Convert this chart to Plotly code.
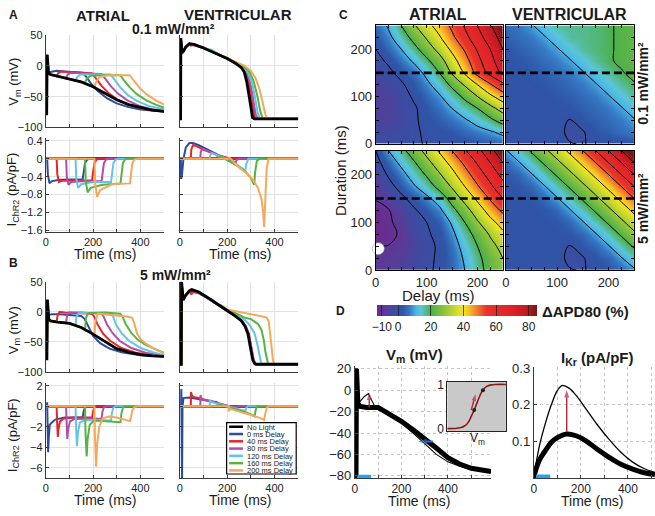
import plotly.graph_objects as go

W, H = 655, 516
FONT = "Liberation Sans, Arial, Helvetica, sans-serif"

# ------------------------------------------------------------------ data
SERIES_NAMES = ["No Light", "0 ms Delay", "40 ms Delay", "80 ms Delay",
                "120 ms Delay", "160 ms Delay", "200 ms Delay"]
SERIES_COLORS = ["#000000", "#2c4d9e", "#e3262b", "#b04fa8",
                 "#63c5e6", "#55b443", "#f6a85a"]

# A: 0.1 mW/mm2, atrial Vm  ([time ms, mV] per series, order as SERIES_NAMES)
ATR_LOW_VM = [
    [[0,-78],[4,-78],[6,18],[9,-4],[12,-12],[20,-14],[50,-17],[100,-21],[150,-26],[200,-34],[250,-44],[300,-55],[350,-63],[400,-68],[450,-72],[500,-74]],
    [[0,-78],[4,-78],[6,18],[9,-4],[12,-11],[20,-10],[45,-8],[80,-9],[120,-10],[155,-11],[170,-17],[190,-28],[220,-41],[260,-53],[300,-61],[350,-67],[400,-71],[450,-73],[500,-74]],
    [[0,-78],[4,-78],[6,18],[9,-4],[12,-12],[20,-14],[45,-17],[52,-12],[65,-9],[100,-10],[150,-11],[195,-12],[210,-19],[235,-32],[265,-44],[300,-54],[350,-63],[400,-69],[450,-72],[500,-74]],
    [[0,-78],[4,-78],[6,18],[9,-4],[12,-12],[20,-14],[50,-17],[85,-20],[93,-14],[108,-11],[150,-12],[235,-13],[250,-20],[275,-33],[305,-45],[345,-56],[395,-65],[445,-70],[500,-73]],
    [[0,-78],[4,-78],[6,18],[9,-4],[12,-12],[20,-14],[50,-17],[100,-21],[125,-24],[133,-18],[148,-14],[200,-14],[275,-14],[290,-22],[315,-35],[345,-47],[385,-57],[435,-65],[500,-71]],
    [[0,-78],[4,-78],[6,18],[9,-4],[12,-12],[20,-14],[50,-17],[100,-21],[150,-26],[165,-28],[173,-21],[188,-16],[250,-15],[315,-15],[330,-23],[355,-35],[385,-46],[425,-56],[465,-63],[500,-68]],
    [[0,-78],[4,-78],[6,18],[9,-4],[12,-12],[20,-14],[50,-17],[100,-21],[150,-26],[205,-35],[213,-26],[228,-18],[260,-15],[355,-15],[370,-23],[395,-35],[425,-46],[465,-56],[500,-63]],
]
# A: 0.1 mW/mm2, atrial I_ChR2 ([time ms, pA/pF])
ATR_LOW_I = [
    [[0,0],[500,0]],
    [[0,0],[6,0],[9,-0.35],[16,-0.55],[26,-0.5],[60,-0.47],[156,-0.46],[160,-0.3],[166,-0.1],[175,-0.02],[185,0],[500,0]],
    [[0,0],[46,0],[49,-0.35],[56,-0.52],[68,-0.49],[120,-0.48],[196,-0.48],[200,-0.3],[206,-0.1],[215,-0.02],[225,0],[500,0]],
    [[0,0],[86,0],[89,-0.4],[96,-0.58],[108,-0.52],[170,-0.5],[236,-0.5],[240,-0.3],[246,-0.1],[255,-0.02],[265,0],[500,0]],
    [[0,0],[126,0],[129,-0.45],[137,-0.65],[150,-0.57],[200,-0.52],[276,-0.52],[280,-0.32],[286,-0.1],[295,-0.02],[305,0],[500,0]],
    [[0,0],[166,0],[169,-0.5],[177,-0.75],[190,-0.65],[240,-0.58],[316,-0.55],[320,-0.33],[326,-0.1],[335,-0.02],[345,0],[500,0]],
    [[0,0],[206,0],[209,-0.55],[217,-0.85],[230,-0.7],[280,-0.57],[356,-0.55],[360,-0.33],[366,-0.1],[375,-0.02],[385,0],[500,0]],
]
# A: 0.1 mW/mm2, ventricular Vm
VEN_LOW_VM = [
    [[0,-86],[3,-86],[4,45],[6,30],[9,22],[15,24],[25,31],[40,36],[60,35],[100,29],[150,21],[200,12],[236,4],[260,-3],[272,-10],[282,-25],[293,-50],[300,-70],[307,-84],[315,-86],[500,-86]],
    [[0,-86],[3,-86],[4,43],[6,28],[9,20],[15,23],[25,30],[40,35],[60,34],[100,29],[150,21],[200,12],[238,4],[262,-3],[275,-10],[285,-25],[296,-50],[303,-70],[310,-84],[318,-86],[500,-86]],
    [[0,-86],[3,-86],[4,45],[6,30],[9,22],[15,24],[25,31],[40,36],[46,33],[55,34],[100,29],[150,21],[200,12],[240,4],[265,-3],[280,-12],[292,-28],[302,-52],[310,-72],[318,-85],[325,-86],[500,-86]],
    [[0,-86],[3,-86],[4,45],[6,30],[9,22],[15,24],[25,31],[40,36],[60,35],[86,31],[95,31],[150,21],[200,12],[240,4],[270,-4],[288,-15],[300,-32],[310,-55],[320,-78],[328,-86],[500,-86]],
    [[0,-86],[3,-86],[4,45],[6,30],[9,22],[15,24],[25,31],[40,36],[60,35],[100,29],[126,26],[135,26],[150,22],[200,12],[240,4],[270,-3],[290,-12],[305,-28],[318,-52],[328,-75],[338,-86],[500,-86]],
    [[0,-86],[3,-86],[4,45],[6,30],[9,22],[15,24],[25,31],[40,36],[60,35],[100,29],[150,21],[166,19],[175,18],[200,13],[240,5],[270,-1],[295,-10],[312,-25],[328,-50],[340,-74],[350,-86],[500,-86]],
    [[0,-86],[3,-86],[4,45],[6,30],[9,22],[15,24],[25,31],[40,36],[60,35],[100,29],[150,21],[200,12],[206,11],[240,6],[270,1],[300,-8],[320,-20],[338,-40],[352,-62],[362,-80],[370,-86],[500,-86]],
]
# A: 0.1 mW/mm2, ventricular I_ChR2
VEN_LOW_I = [
    [[0,0],[500,0]],
    [[0,0],[4,0],[5,-0.45],[8,-0.4],[15,0.0],[25,0.25],[40,0.35],[55,0.35],[80,0.3],[110,0.22],[140,0.13],[156,0.1],[160,0.04],[170,0],[500,0]],
    [[0,0],[46,0],[48,0.2],[55,0.3],[70,0.28],[100,0.2],[140,0.12],[170,0.06],[196,0.03],[200,0.01],[210,0],[500,0]],
    [[0,0],[86,0],[88,0.15],[95,0.22],[115,0.18],[150,0.1],[190,0.03],[215,-0.03],[236,-0.08],[240,-0.03],[250,0],[500,0]],
    [[0,0],[126,0],[128,0.08],[135,0.13],[160,0.07],[200,-0.03],[240,-0.13],[265,-0.22],[276,-0.28],[280,-0.12],[290,0],[500,0]],
    [[0,0],[166,0],[168,0.04],[175,0.06],[200,-0.03],[240,-0.15],[280,-0.3],[300,-0.43],[314,-0.58],[318,-0.3],[325,-0.05],[335,0],[500,0]],
    [[0,0],[206,0],[208,0.02],[215,0.0],[240,-0.15],[280,-0.32],[310,-0.48],[330,-0.65],[345,-0.9],[352,-1.2],[356,-1.52],[361,-0.8],[367,-0.2],[375,0],[500,0]],
]
# B: 5 mW/mm2, atrial Vm
ATR_HIGH_VM = [
    [[0,-78],[5,-78],[7,20],[10,-2],[13,-12],[20,-15],[50,-17],[100,-19],[150,-26],[200,-37],[250,-49],[300,-61],[350,-67],[400,-71],[450,-73],[500,-74]],
    [[0,-78],[5,-78],[7,20],[10,0],[14,-5],[25,-4],[60,-4],[100,-5],[150,-7],[165,-12],[180,-25],[200,-40],[230,-52],[270,-61],[320,-67],[400,-72],[500,-74]],
    [[0,-78],[5,-78],[7,20],[10,-2],[13,-12],[20,-15],[46,-17],[50,-6],[58,0],[80,-1],[150,-2],[195,-3],[205,-8],[218,-20],[242,-36],[272,-48],[320,-60],[380,-68],[450,-72],[500,-74]],
    [[0,-78],[5,-78],[7,20],[10,-2],[13,-12],[20,-15],[50,-17],[86,-18],[90,-6],[98,-1],[150,-1],[235,-3],[245,-8],[258,-20],[282,-35],[312,-48],[362,-60],[422,-68],[500,-73]],
    [[0,-78],[5,-78],[7,20],[10,-2],[13,-12],[20,-15],[50,-17],[100,-19],[126,-22],[130,-8],[140,-2],[200,-2],[275,-3],[285,-8],[298,-22],[322,-36],[352,-48],[402,-60],[452,-67],[500,-72]],
    [[0,-78],[5,-78],[7,20],[10,-2],[13,-12],[20,-15],[50,-17],[100,-19],[150,-26],[166,-30],[170,-10],[180,-2],[250,-1],[315,-3],[325,-8],[338,-20],[362,-35],[388,-46],[422,-55],[458,-61],[500,-68]],
    [[0,-78],[5,-78],[7,20],[10,-2],[13,-12],[20,-15],[50,-17],[100,-19],[150,-26],[206,-38],[210,-15],[220,-3],[250,-4],[300,-6],[350,-8],[365,-10],[375,-20],[386,-36],[400,-45],[420,-52],[456,-61],[500,-69]],
]
# B: 5 mW/mm2, atrial I_ChR2
ATR_HIGH_I = [
    [[0,0],[500,0]],
    [[0,0],[5,0],[6,0.4],[8,-2],[10,-4.5],[13,-3],[17,-1.8],[25,-1.6],[40,-1.3],[80,-1.1],[156,-1.1],[160,-0.5],[166,-0.1],[175,0],[500,0]],
    [[0,0],[46,0],[48,-1.5],[51,-3.0],[54,-2.2],[60,-1.5],[75,-1.2],[120,-1.1],[196,-1.1],[200,-0.5],[206,-0.1],[215,0],[500,0]],
    [[0,0],[86,0],[88,-1.5],[91,-3.2],[95,-2.2],[102,-1.5],[120,-1.25],[170,-1.2],[236,-1.2],[240,-0.5],[246,-0.1],[255,0],[500,0]],
    [[0,0],[126,0],[128,-2],[132,-3.9],[136,-2.6],[144,-1.6],[165,-1.35],[220,-1.35],[276,-1.4],[280,-0.6],[286,-0.15],[295,0],[500,0]],
    [[0,0],[166,0],[168,-2.5],[173,-4.9],[177,-3.2],[186,-1.8],[205,-1.4],[260,-1.45],[316,-1.55],[320,-0.7],[326,-0.15],[335,0],[500,0]],
    [[0,0],[206,0],[208,-3],[213,-5.9],[217,-3.8],[226,-2],[240,-1.2],[265,-1.0],[300,-1.1],[340,-1.3],[356,-1.45],[361,-1.0],[366,-0.4],[375,-0.08],[385,0],[500,0]],
]
# B: 5 mW/mm2, ventricular Vm
VEN_HIGH_VM = [
    [[0,-87],[6,-87],[7,50],[10,30],[14,20],[25,28],[40,35],[50,37],[80,33],[120,23],[160,12],[204,1],[235,-7],[260,-15],[275,-24],[288,-37],[296,-55],[302,-69],[308,-80],[316,-86],[322,-87],[500,-87]],
    [[0,-87],[6,-87],[7,46],[10,26],[14,19],[25,27],[40,33],[55,34],[80,31],[120,22],[160,12],[204,1],[237,-7],[262,-15],[277,-24],[290,-37],[298,-55],[304,-69],[310,-80],[318,-86],[324,-87],[500,-87]],
    [[0,-87],[6,-87],[7,50],[10,30],[14,20],[25,28],[44,35],[48,29],[53,32],[60,33],[80,31],[120,23],[160,12],[204,1],[238,-7],[263,-15],[279,-24],[292,-37],[300,-55],[306,-69],[312,-80],[320,-86],[326,-87],[500,-87]],
    [[0,-87],[6,-87],[7,50],[10,30],[14,20],[25,28],[40,35],[50,37],[80,33],[88,29],[93,30],[120,22],[160,12],[204,1],[240,-9],[265,-17],[282,-28],[295,-45],[305,-65],[312,-80],[320,-87],[500,-87]],
    [[0,-87],[6,-87],[7,50],[10,30],[14,20],[25,28],[40,35],[50,37],[80,33],[120,23],[128,20],[133,21],[160,13],[204,2],[240,-6],[270,-12],[295,-22],[315,-35],[328,-55],[336,-72],[343,-85],[347,-87],[500,-87]],
    [[0,-87],[6,-87],[7,50],[10,30],[14,20],[25,28],[40,35],[50,37],[80,33],[120,23],[160,12],[168,10],[173,11],[204,3],[240,-3],[270,-9],[300,-12],[330,-20],[345,-30],[355,-48],[362,-68],[368,-82],[373,-87],[500,-87]],
    [[0,-87],[6,-87],[7,50],[10,30],[14,20],[25,28],[40,35],[50,37],[80,33],[120,23],[160,12],[204,1],[208,-1],[212,3],[250,0],[300,-3],[350,-7],[365,-9],[375,-15],[382,-35],[388,-60],[393,-80],[398,-87],[500,-87]],
]
# B: 5 mW/mm2, ventricular I_ChR2
VEN_HIGH_I = [
    [[0,0],[500,0]],
    [[0,0],[5,0],[6,1.7],[7,-7.5],[9,-7.5],[11,0],[15,0.8],[40,0.85],[80,0.7],[120,0.5],[156,0.4],[160,0.1],[168,0],[500,0]],
    [[0,0],[46,0],[47,1.4],[50,1.1],[56,0.9],[80,0.8],[120,0.55],[160,0.3],[196,0.1],[200,0.03],[206,0],[500,0]],
    [[0,0],[86,0],[87,1.1],[90,0.8],[100,0.65],[140,0.4],[180,0.15],[220,-0.05],[236,-0.1],[240,-0.03],[246,0],[500,0]],
    [[0,0],[126,0],[127,0.65],[131,0.45],[150,0.3],[190,0.05],[230,-0.2],[260,-0.35],[276,-0.45],[281,-0.15],[287,0],[500,0]],
    [[0,0],[166,0],[167,0.25],[172,0.15],[200,-0.05],[240,-0.3],[280,-0.6],[305,-0.85],[316,-1.0],[320,-0.4],[326,0],[500,0]],
    [[0,0],[206,0],[207,-0.5],[212,-0.2],[220,-0.3],[260,-0.55],[300,-0.85],[340,-1.15],[356,-1.35],[362,-0.6],[368,-0.1],[375,0],[500,0]],
]

# C: dAPD80 (%) maps; rows = light duration, columns = delay
DELAYS = [0, 25, 50, 75, 100, 125, 150, 175, 200, 225, 250]
DURATIONS = [0, 25, 50, 75, 100, 125, 150, 175, 200, 225, 250]
LIGHT_DURATION = 150
WHITE_DOT = [5, 45]
C_ATR_LOW = [
    [-1, -1, -1, -1, 0.5, 1, 1.5, 2, 3, 4, 5],
    [-3.5, -3, -2, -1, 1, 2, 3, 5, 7, 9, 12],
    [-6, -5.5, -3.5, -1, 2, 4, 6, 9, 13, 18, 24],
    [-6.5, -6, -3.5, -1, 3, 6, 10, 15, 20, 27, 34],
    [-6.5, -5.5, -3, 1, 5, 9, 15, 22, 30, 38, 45],
    [-5.5, -3.5, -1, 3, 8, 14, 22, 31, 40, 49, 58],
    [-4, -1.5, 2, 6, 12, 20, 31, 41, 53, 63, 72],
    [-2, 1, 6, 11, 18, 26, 36, 46, 57, 67, 76],
    [0, 5, 10, 17, 25, 33, 42, 51, 61, 70, 80],
    [3, 8, 15, 23, 31, 39, 48, 57, 66, 75, 84],
    [5, 11, 20, 29, 37, 44, 52, 61, 70, 79, 88],
]
C_VEN_LOW = [
    [1, 1, 1, 1, 1, 0.3, -0.3, 1, 1.5, 2, 2.5],
    [2, 2, 2, 2, 2, -1.5, -0.5, 3, 4, 5.5, 7],
    [2, 2, 2, 2, 1.5, -0.3, 3, 4, 5.5, 7, 9.5],
    [2, 2, 2, 2, 2.5, 3, 4, 5.5, 7, 9.5, 13],
    [2, 2, 2, 2.5, 3, 4, 5.5, 7, 9.5, 13, 16.5],
    [2, 2, 2.5, 3, 4, 5.5, 7, 9.5, 13, 16.5, 19.5],
    [2, 2.5, 3, 4, 5.5, 7, 9.5, 13, 16.5, 19.5, 21.5],
    [2.5, 3, 4, 5.5, 7, 9.5, 13, 16.5, 19.3, 21, 22.5],
    [3, 4, 5.5, 7, 9.5, 13, 16.5, 18, 19.3, 21, 22.5],
    [4, 5.5, 7, 9.5, 13, 16.5, 17, 18, 19.3, 21, 22.5],
    [5.5, 7, 9.5, 13, 16.5, 17, 17, 18, 19.3, 21, 22.5],
]
C_ATR_HIGH = [
    [-8, -8, -6, -4, -1, 1, 5, 10, 17, 23, 28],
    [-9, -8.5, -6.5, -4, -1.5, 1, 5, 11, 18, 24, 30],
    [-10.3, -9.8, -8, -5, -2, 1, 6, 13, 20, 27, 33],
    [-13, -12, -9, -4, -1, 2, 8, 16, 23, 31, 38],
    [-13, -11, -8, -3, 0, 4, 11, 20, 29, 37, 44],
    [-12.5, -10.5, -6, -1, 3, 8, 17, 26, 35, 44, 52],
    [-9.5, -6, -2, 3, 8, 14, 24, 33, 42, 51, 60],
    [-8, -3, 3, 9, 15, 23, 31, 40, 49, 58, 67],
    [-6, 1, 7, 14, 21, 29, 37, 46, 55, 64, 73],
    [-3, 5, 12, 19, 27, 35, 43, 52, 61, 70, 80],
    [0, 10, 17, 25, 33, 41, 50, 59, 67, 77, 87],
]
C_VEN_HIGH = [
    [1, 1, 1, 1, 1, 0.3, -0.3, 1, 3, 5, 9],
    [2, 2, 2, 2, 2, -1.5, -0.5, 3, 5, 9.5, 15],
    [2, 2, 2, 2, 1.5, -0.3, 3, 5, 9.5, 15, 21],
    [2, 2, 2, 2, 2.5, 3, 5, 9.5, 15, 21, 28],
    [2, 2, 2, 2.5, 3, 5, 9.5, 15, 21, 28, 35],
    [2, 2, 2.5, 3, 5, 9.5, 15, 21, 28, 35, 42],
    [2, 2.5, 3, 5, 9.5, 15, 21, 28, 35, 42, 50],
    [2.5, 3, 5, 9.5, 15, 21, 28, 35, 42, 50, 60],
    [3, 5, 9.5, 15, 21, 28, 35, 42, 50, 60, 70],
    [5, 9.5, 15, 21, 28, 35, 42, 50, 60, 70, 80],
    [9.5, 15, 21, 28, 35, 42, 50, 60, 70, 80, 90],
]
CBAR_TICKS = [-10, 0, 20, 40, 60, 80]

# D: mechanism traces
D_VM_CONTROL = [[0,-80],[5,-80],[7,20],[10,0],[13,-12],[20,-15],[50,-16],[100,-16],[150,-22],[200,-29],[250,-37],[300,-45],[350,-54],[400,-63],[450,-69],[500,-73],[585,-76]]
D_VM_LIGHT = [[0,-80],[5,-80],[7,20],[10,0],[13,-12],[20,-11],[40,-6],[58,-3],[75,-10],[90,-17],[100,-18],[150,-23],[200,-31],[250,-40],[300,-50],[350,-60],[400,-67],[450,-71],[500,-74],[585,-77]]
D_IKR_CONTROL = [[0,0],[10,0.025],[25,0.05],[50,0.075],[75,0.097],[100,0.11],[140,0.12],[180,0.115],[220,0.102],[270,0.078],[320,0.056],[370,0.037],[420,0.024],[470,0.014],[515,0.009]]
D_IKR_LIGHT = [[0,0],[10,0.04],[25,0.09],[50,0.15],[75,0.2],[100,0.238],[120,0.252],[150,0.245],[180,0.225],[220,0.19],[270,0.145],[320,0.105],[370,0.07],[420,0.043],[470,0.025],[515,0.015]]
D_LIGHT_ON = [10, 70]
INSET_V = [-80, -60, -50, -45, -40, -35, -30, -25, -22, -20, -15, -10, -5, 0, 10, 20, 40]
INSET_ACT = [0, 0.01, 0.03, 0.06, 0.1, 0.18, 0.3, 0.42, 0.5, 0.56, 0.7, 0.82, 0.9, 0.95, 0.99, 1.0, 1.0]
INSET_DOTS_V = [-25, -7]
INSET_DOTS_ACT = [0.42, 0.87]
# arrows: [x_tail, y_tail, x_head, y_head]
ARROW_VM_PEAK = [62, -16, 62, -2]
ARROW_VM_REPOL = [335, -48, 272, -48]
ARROW_IKR = [140, 0.125, 140, 0.24]
ARROW_INSET = [-31, 0.42, -22, 0.78]

# ------------------------------------------------------------------ helpers
def X(px):
    return px / W

def Y(py):
    return 1 - py / H

def axkey(n, a):
    return f"{a}axis" if n == 1 else f"{a}axis{n}"

def ref(n, a):
    return a if n == 1 else f"{a}{n}"

fig = go.Figure()
layout = dict(width=W, height=H, margin=dict(l=0, r=0, t=0, b=0),
              paper_bgcolor="white", plot_bgcolor="white", showlegend=False,
              font=dict(family=FONT, color="#1a1a1a"), annotations=[], shapes=[])

def make_axes(n, box, xcfg, ycfg):
    x0, x1, y0, y1 = box
    layout[axkey(n, "x")] = dict(domain=[X(x0), X(x1)], anchor=ref(n, "y"), **xcfg)
    layout[axkey(n, "y")] = dict(domain=[Y(y1), Y(y0)], anchor=ref(n, "x"), **ycfg)

def ann(text, x, y, size, bold=False, angle=0, xanchor="center", yanchor="middle"):
    layout["annotations"].append(dict(
        text=f"<b>{text}</b>" if bold else text, x=X(x), y=Y(y), xref="paper", yref="paper",
        showarrow=False, textangle=angle, xanchor=xanchor, yanchor=yanchor,
        font=dict(size=size, family=FONT, color="#1a1a1a")))

AXC = "#3a3a3a"

def ab_axis(rng, dtick, minor_dtick, labels, size=11):
    d = dict(range=rng, tick0=0, dtick=dtick, showticklabels=labels,
             showline=True, linecolor=AXC, linewidth=1, ticks="inside", ticklen=3,
             tickcolor=AXC, showgrid=True, gridcolor="#e2e2e2", gridwidth=1,
             zeroline=False, tickfont=dict(size=size, color="#222"))
    if minor_dtick:
        d["minor"] = dict(tick0=0, dtick=minor_dtick, ticks="inside", ticklen=3, tickcolor=AXC,
                          showgrid=True, gridcolor="#e2e2e2", gridwidth=1)
    return d

# panel A / B axes
make_axes(1, (42, 161, 29, 124), ab_axis([0, 500], 200, 100, False), ab_axis([-100, 50], 50, None, True))
make_axes(2, (177, 296, 29, 124), ab_axis([0, 500], 200, 100, False), ab_axis([-100, 50], 50, None, False))
make_axes(3, (42, 161, 135, 232), ab_axis([0, 500], 200, 100, True), ab_axis([-1.64, 0.46], 0.4, None, True))
make_axes(4, (177, 296, 135, 232), ab_axis([0, 500], 200, 100, True), ab_axis([-1.64, 0.46], 0.4, None, False))
make_axes(5, (42, 161, 283, 376), ab_axis([0, 500], 200, 100, False), ab_axis([-100, 50], 50, None, True))
make_axes(6, (177, 296, 283, 376), ab_axis([0, 500], 200, 100, False), ab_axis([-100, 50], 50, None, False))
make_axes(7, (42, 161, 387, 485), ab_axis([0, 500], 200, 100, True), ab_axis([-7, 2.3], 2, None, True))
make_axes(8, (177, 296, 387, 485), ab_axis([0, 500], 200, 100, True), ab_axis([-7, 2.3], 2, None, False))

def add_series(series, n, vm):
    order = [1, 2, 3, 4, 5, 6, 0] if vm else [0, 1, 2, 3, 4, 5, 6]
    for i in order:
        pts = series[i]
        fig.add_trace(go.Scatter(
            x=[p[0] for p in pts], y=[p[1] for p in pts], mode="lines", name=SERIES_NAMES[i],
            line=dict(color=SERIES_COLORS[i], width=2.8 if i == 0 else 2.0),
            xaxis=ref(n, "x"), yaxis=ref(n, "y"), hoverinfo="skip"))

add_series(ATR_LOW_VM, 1, True)
add_series(VEN_LOW_VM, 2, True)
add_series(ATR_LOW_I, 3, False)
add_series(VEN_LOW_I, 4, False)
add_series(ATR_HIGH_VM, 5, True)
add_series(VEN_HIGH_VM, 6, True)
add_series(ATR_HIGH_I, 7, False)
add_series(VEN_HIGH_I, 8, False)

# ------------------------------------------------------------------ panel C
ZMIN, ZMAX = -13, 85
STOPS = [(-13, "#6b2a8c"), (-8, "#5b3b98"), (-3, "#3f4aa0"), (3, "#2f56a8"), (7, "#3579c4"),
         (11, "#4cb8e6"), (14, "#5cc6d8"), (20, "#4cb04a"), (28, "#8cc43c"), (36, "#d4dc2c"),
         (40, "#f6e51c"), (44, "#f7b52a"), (48, "#f0802a"), (54, "#e8332a"), (70, "#e02028"),
         (78, "#c41a22"), (85, "#7a1518")]
CSCALE = [[(v - ZMIN) / (ZMAX - ZMIN), c] for v, c in STOPS]

def c_axis(labels):
    return dict(range=[0, 250], tick0=0, dtick=100, showticklabels=labels,
                showline=True, mirror="ticks", linecolor="black", linewidth=1,
                ticks="inside", ticklen=3, tickcolor="black", showgrid=False,
                minor=dict(tick0=0, dtick=25, ticks="inside", ticklen=3, tickcolor="black",
                           showgrid=False),
                zeroline=False, tickfont=dict(size=13, color="#222"))

make_axes(9, (374, 502, 19, 141), c_axis(False), c_axis(True))
make_axes(10, (505, 634, 19, 141), c_axis(False), c_axis(False))
make_axes(11, (374, 502, 148, 271), c_axis(True), c_axis(True))
make_axes(12, (505, 634, 148, 271), c_axis(True), c_axis(False))

for k, (n, z) in enumerate([(9, C_ATR_LOW), (10, C_VEN_LOW), (11, C_ATR_HIGH), (12, C_VEN_HIGH)]):
    cb = None
    if k == 0:
        cb = dict(orientation="h", x=X(455.7), xanchor="center", y=Y(307), yanchor="top",
                  len=160, lenmode="pixels", thickness=11, thicknessmode="pixels",
                  xpad=0, ypad=0, outlinewidth=0, tickvals=CBAR_TICKS,
                  ticks="inside", ticklen=11, tickcolor="rgba(30,30,30,0.75)", tickwidth=1,
                  tickfont=dict(size=12, color="#222"))
    fig.add_trace(go.Heatmap(x=DELAYS, y=DURATIONS, z=z, zsmooth="best", colorscale=CSCALE,
                             zmin=ZMIN, zmax=ZMAX, showscale=(k == 0), colorbar=cb,
                             xaxis=ref(n, "x"), yaxis=ref(n, "y"), hoverinfo="skip"))
    fig.add_trace(go.Contour(x=DELAYS, y=DURATIONS, z=z, showscale=False,
                             contours=dict(start=-10, end=90, size=10, coloring="none"),
                             line=dict(color="black", width=1, smoothing=1.0),
                             xaxis=ref(n, "x"), yaxis=ref(n, "y"), hoverinfo="skip"))
    fig.add_trace(go.Scatter(x=[DELAYS[0], DELAYS[-1]], y=[LIGHT_DURATION, LIGHT_DURATION],
                             mode="lines", line=dict(color="black", width=2.6, dash="8px,4px"),
                             xaxis=ref(n, "x"), yaxis=ref(n, "y"), hoverinfo="skip"))

fig.add_trace(go.Scatter(x=[WHITE_DOT[0]], y=[WHITE_DOT[1]], mode="markers",
                         marker=dict(color="white", size=12, line=dict(color="#999", width=0.6)),
                         xaxis="x11", yaxis="y11", cliponaxis=False, hoverinfo="skip"))

# ------------------------------------------------------------------ panel D
def d_axis(rng, dtick, minor_dtick, tick0=0, labels=True):
    d = dict(range=rng, tick0=tick0, dtick=dtick, showticklabels=labels,
             showline=True, linecolor=AXC, linewidth=1, ticks="inside", ticklen=3,
             tickcolor=AXC, showgrid=True, gridcolor="#c4c4c4", griddash="dot",
             gridwidth=1, zeroline=False, tickfont=dict(size=13, color="#222"))
    if minor_dtick:
        d["minor"] = dict(tick0=0, dtick=minor_dtick, ticks="inside", ticklen=3, tickcolor=AXC,
                          showgrid=True, gridcolor="#c4c4c4", griddash="dot", gridwidth=1)
    return d

make_axes(13, (353, 490, 370, 485), dict(d_axis([0, 585], 200, 100), tickfont=dict(size=12, color="#222")),
          d_axis([-82, 22.5], 20, None, tick0=0))
make_axes(15, (533, 655, 371, 485), dict(d_axis([0, 515], 200, 100), tickfont=dict(size=12, color="#222")),
          dict(d_axis([0, 0.302], 0.1, None), tickvals=[0.1, 0.2, 0.3]))
INSET_XR = [-80, 40]
INSET_YR = [-0.06, 1.06]
make_axes(14, (446, 505, 386, 437),
          dict(range=INSET_XR, showticklabels=False, ticks="", showline=True, mirror=True,
               linecolor="#222", linewidth=1, showgrid=False, zeroline=False),
          dict(range=INSET_YR, tickvals=[0, 1], ticks="", showline=True,
               mirror=True, linecolor="#222", linewidth=1, showgrid=False, zeroline=False,
               tickfont=dict(size=12, color="#222")))

for pts, wd in [(D_VM_CONTROL, 5), (D_VM_LIGHT, 1.1)]:
    fig.add_trace(go.Scatter(x=[p[0] for p in pts], y=[p[1] for p in pts], mode="lines",
                             line=dict(color="black", width=wd), xaxis="x13", yaxis="y13",
                             hoverinfo="skip"))
for pts, wd in [(D_IKR_CONTROL, 5), (D_IKR_LIGHT, 1.3)]:
    fig.add_trace(go.Scatter(x=[p[0] for p in pts], y=[p[1] for p in pts], mode="lines",
                             line=dict(color="black", width=wd, shape="spline"),
                             xaxis="x15", yaxis="y15", hoverinfo="skip"))
fig.add_trace(go.Scatter(x=D_LIGHT_ON, y=[-81, -81], mode="lines",
                         line=dict(color="#27a2ee", width=4), xaxis="x13", yaxis="y13",
                         hoverinfo="skip"))
fig.add_trace(go.Scatter(x=D_LIGHT_ON, y=[0.004, 0.004], mode="lines",
                         line=dict(color="#27a2ee", width=4), xaxis="x15", yaxis="y15",
                         hoverinfo="skip"))
# inset
fig.add_trace(go.Scatter(x=[INSET_XR[0], INSET_XR[1], INSET_XR[1], INSET_XR[0], INSET_XR[0]],
                         y=[INSET_YR[0], INSET_YR[0], INSET_YR[1], INSET_YR[1], INSET_YR[0]],
                         fill="toself", fillcolor="#c9c9c9", mode="lines", line=dict(width=0),
                         xaxis="x14", yaxis="y14", hoverinfo="skip"))
fig.add_trace(go.Scatter(x=INSET_V, y=INSET_ACT, mode="lines",
                         line=dict(color="#8b1a1a", width=1.6, shape="spline"),
                         xaxis="x14", yaxis="y14", hoverinfo="skip"))
fig.add_trace(go.Scatter(x=INSET_DOTS_V, y=INSET_DOTS_ACT, mode="markers",
                         marker=dict(color="#222", size=4), xaxis="x14", yaxis="y14",
                         hoverinfo="skip"))

ARROW_RED = "#b3253a"

def add_arrow(a, n, color, width, head):
    fig.add_trace(go.Scatter(x=[a[0], a[2]], y=[a[1], a[3]], mode="lines+markers",
                             line=dict(color=color, width=width),
                             marker=dict(symbol="arrow", size=[0, head], angleref="previous",
                                         color=color, line=dict(width=0)),
                             xaxis=ref(n, "x"), yaxis=ref(n, "y"), hoverinfo="skip"))

add_arrow(ARROW_VM_PEAK, 13, ARROW_RED, 1.4, 8)
add_arrow(ARROW_VM_REPOL, 13, "#2f6fd6", 2, 9)
add_arrow(ARROW_IKR, 15, ARROW_RED, 1.4, 8)
add_arrow(ARROW_INSET, 14, ARROW_RED, 1.4, 7)

# ------------------------------------------------------------------ texts
ann("A", 3, 8, 12, bold=True, xanchor="left")
ann("ATRIAL", 100, 9, 15, bold=True)
ann("VENTRICULAR", 235, 8, 15, bold=True)
ann("0.1 mW/mm\u00b2", 171, 23, 14, bold=True)
ann("V<sub>m</sub> (mV)", 11, 77, 13, angle=-90)
ann("I<sub>ChR2</sub> (pA/pF)", 9, 188, 13, angle=-90)
ann("Time (ms)", 102, 254, 14)
ann("Time (ms)", 237, 254, 14)
ann("B", 3, 264, 12, bold=True, xanchor="left")
ann("5 mW/mm\u00b2", 173, 276, 14, bold=True)
ann("V<sub>m</sub> (mV)", 10, 333, 13, angle=-90)
ann("I<sub>ChR2</sub> (pA/pF)", 9, 441, 13, angle=-90)
ann("Time (ms)", 102, 508, 14)
ann("Time (ms)", 237, 508, 14)

ann("C", 335, 8, 12, bold=True, xanchor="left")
ann("ATRIAL", 437, 8, 16, bold=True)
ann("VENTRICULAR", 569, 8, 16, bold=True)
ann("Duration (ms)", 338, 168, 15, angle=-90)
ann("Delay (ms)", 437, 297, 15)
ann("0.1 mW/mm\u00b2", 643, 79, 14, bold=True, angle=-90)
ann("5 mW/mm\u00b2", 643, 208, 14, bold=True, angle=-90)

ann("D", 332, 313, 12, bold=True, xanchor="left")
ann("\u0394APD80 (%)", 539, 314, 15, bold=True, xanchor="left")
ann("V<sub>m</sub> (mV)", 413, 359, 15, bold=True)
ann("I<sub>Kr</sub> (pA/pF)", 597, 362, 15, bold=True)
ann("Time (ms)", 418, 509, 14)
ann("Time (ms)", 592, 509, 14)
ann("V<sub>m</sub>", 476, 445, 12)

# legend (panel B, ventricular current)
LEG_X0, LEG_X1, LEG_Y0, LEG_Y1 = 224, 294, 428, 481
layout["shapes"].append(dict(type="rect", xref="paper", yref="paper", x0=X(LEG_X0), x1=X(LEG_X1),
                             y0=Y(LEG_Y1), y1=Y(LEG_Y0), fillcolor="white",
                             line=dict(color="black", width=1.2), layer="above"))
for i, name in enumerate(SERIES_NAMES):
    yy = 432.3 + 7.5 * i
    layout["shapes"].append(dict(type="line", xref="paper", yref="paper", x0=X(226.5), x1=X(240.5),
                                 y0=Y(yy), y1=Y(yy), line=dict(color=SERIES_COLORS[i], width=2.5),
                                 layer="above"))
    ann(name, 242, yy + 0.3, 7.5, xanchor="left")

fig.update_layout(**layout)
fig.write_html("out.html", config={"displayModeBar": False, "staticPlot": True},
               post_script="document.body.style.margin='0px';")
